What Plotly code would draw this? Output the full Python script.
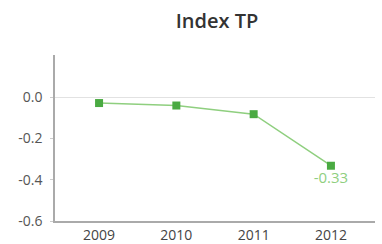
import plotly.graph_objects as go

years = ["2009", "2010", "2011", "2012"]
values = [-0.028, -0.04, -0.082, -0.332]
labels = ["", "", "", "-0.33"]

fig = go.Figure()
fig.add_trace(go.Scatter(
    x=years, y=values, mode="lines+markers+text",
    line=dict(color="#8fcf7f", width=1.5),
    marker=dict(symbol="square", size=8, color="#4aaa42"),
    text=labels, textposition="bottom center",
    textfont=dict(color="#8fcf7f", size=15, family="Open Sans"),
    hoverinfo="skip",
))
fig.update_layout(
    width=382, height=244,
    margin=dict(l=55, r=7, t=55, b=23),
    paper_bgcolor="white", plot_bgcolor="white",
    showlegend=False,
    title=dict(text="Index TP", x=217 / 382, xanchor="center", y=1 - 21 / 244, yanchor="middle",
               font=dict(family="Open Sans", size=20, color="#333333", weight=600)),
    font=dict(family="Open Sans", color="#555555", size=14),
)
fig.update_xaxes(range=[-0.57, 3.57], showline=True, linecolor="#aaaaaa", linewidth=1.5,
                 showgrid=False, ticks="", automargin=False,
                 tickfont=dict(size=14, color="#444444"))
fig.update_yaxes(range=[-0.6, 0.205], tickvals=[0.0, -0.2, -0.4, -0.6],
                 ticktext=["0.0", "-0.2", "-0.4", "-0.6"], automargin=False,
                 showline=True, linecolor="#aaaaaa", linewidth=1.5,
                 showgrid=False, zeroline=True, zerolinecolor="#e2e2e2", zerolinewidth=1,
                 ticks="outside", ticklen=3, tickcolor="#cccccc", ticklabelstandoff=5,
                 tickfont=dict(size=14, color="#555555"))
fig.write_html("out.html", config={"displayModeBar": False},
               post_script="document.body.style.margin='0';")
